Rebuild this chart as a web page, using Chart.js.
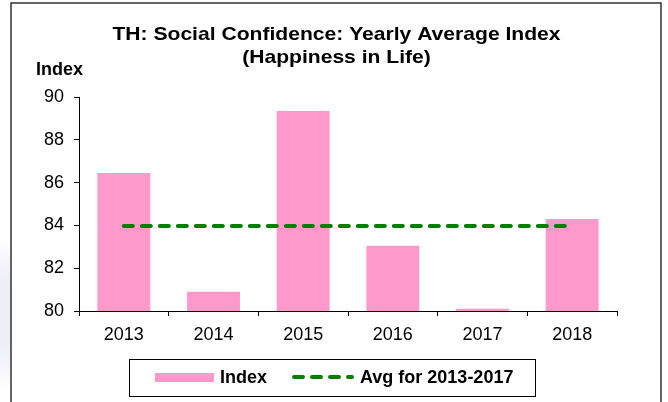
<!DOCTYPE html>
<html>
<head>
<meta charset="utf-8">
<script src="https://cdn.jsdelivr.net/npm/chart.js@4.4.0/dist/chart.umd.min.js"></script>
<style>
  html, body { margin: 0; padding: 0; background: #fff; }
  #wrap { position: relative; width: 668px; height: 402px; }
  #shade { position: absolute; left: 0; top: 240px; width: 11px; height: 150px;
    background: linear-gradient(#fff, #eceef8 30%, #eceef8 70%, #fff); }
  canvas { position: absolute; left: 0; top: 0; }
</style>
</head>
<body>
<div id="wrap">
  <div id="shade"></div>
  <canvas id="chart" width="668" height="402"></canvas>
</div>
<script>
const years = ["2013", "2014", "2015", "2016", "2017", "2018"];
const indexValues = [86.45, 80.9, 89.35, 83.05, 80.1, 84.3];
const avgValues = [83.97, 83.97, 83.97, 83.97, 83.97, 83.97];
const titleLines = ["TH: Social Confidence: Yearly Average Index", "(Happiness in Life)"];
const yLabel = "Index";

const pink = "#ff99cc";
const green = "#008000";
const font = "'Liberation Sans', Arial, sans-serif";

// draws text a bit wider than normal, like the original
function wideText(ctx, text, x, y, stretch) {
  ctx.save();
  ctx.translate(x, y);
  ctx.scale(stretch, 1);
  ctx.fillText(text, 0, 0);
  ctx.restore();
}

// frame, title, axis label and legend drawn by hand
const decorations = {
  id: "decorations",
  afterDraw(chart) {
    const ctx = chart.ctx;
    ctx.save();
    ctx.strokeStyle = "#333";
    ctx.lineWidth = 1.5;
    ctx.strokeRect(11, 3, 650, 420);

    ctx.fillStyle = "#000";
    ctx.textAlign = "center";
    ctx.textBaseline = "middle";
    ctx.font = "bold 19px " + font;
    wideText(ctx, titleLines[0], 336.5, 35, 1.11);
    wideText(ctx, titleLines[1], 336.5, 58, 1.11);

    ctx.textAlign = "left";
    ctx.font = "bold 18px " + font;
    ctx.fillText(yLabel, 36, 70);

    // legend
    ctx.strokeStyle = "#000";
    ctx.lineWidth = 1;
    ctx.strokeRect(129.5, 359.5, 406, 37);
    ctx.fillStyle = pink;
    ctx.fillRect(155, 373, 59, 9);
    ctx.fillStyle = "#000";
    ctx.fillText(chart.data.datasets[0].label, 220, 378);

    ctx.strokeStyle = green;
    ctx.lineWidth = 4;
    ctx.lineCap = "round";
    ctx.setLineDash([9, 9]);
    ctx.beginPath();
    ctx.moveTo(294, 377);
    ctx.lineTo(352, 377);
    ctx.stroke();
    ctx.setLineDash([]);
    ctx.fillText(chart.data.datasets[1].label, 360, 378);
    ctx.restore();
  }
};

new Chart(document.getElementById("chart"), {
  data: {
    labels: years,
    datasets: [
      {
        type: "bar",
        label: "Index",
        data: indexValues,
        backgroundColor: pink,
        barPercentage: 0.59,
        categoryPercentage: 1,
        order: 2
      },
      {
        type: "line",
        label: "Avg for 2013-2017",
        data: avgValues,
        borderColor: green,
        borderWidth: 4,
        borderDash: [9, 9],
        borderCapStyle: "round",
        pointRadius: 0,
        fill: false,
        order: 1
      }
    ]
  },
  options: {
    responsive: false,
    animation: false,
    layout: { padding: { top: 97, left: 0, right: 51, bottom: 61 } },
    plugins: {
      legend: { display: false },
      title: { display: false },
      tooltip: { enabled: false }
    },
    scales: {
      x: {
        afterFit(scale) { scale.height = 30; },
        border: { display: true, color: "#000", width: 1 },
        grid: { drawOnChartArea: false, drawTicks: true, tickLength: 5, color: "#000", offset: true },
        ticks: { color: "#000", font: { family: font, size: 18 }, padding: 8 }
      },
      y: {
        min: 80,
        max: 90,
        afterFit(scale) { scale.width = 79; },
        border: { display: true, color: "#000", width: 1 },
        grid: { drawOnChartArea: false, drawTicks: true, tickLength: 5, color: "#000" },
        ticks: { stepSize: 2, color: "#000", font: { family: font, size: 18 }, padding: 10 }
      }
    }
  },
  plugins: [decorations]
});
</script>
</body>
</html>
